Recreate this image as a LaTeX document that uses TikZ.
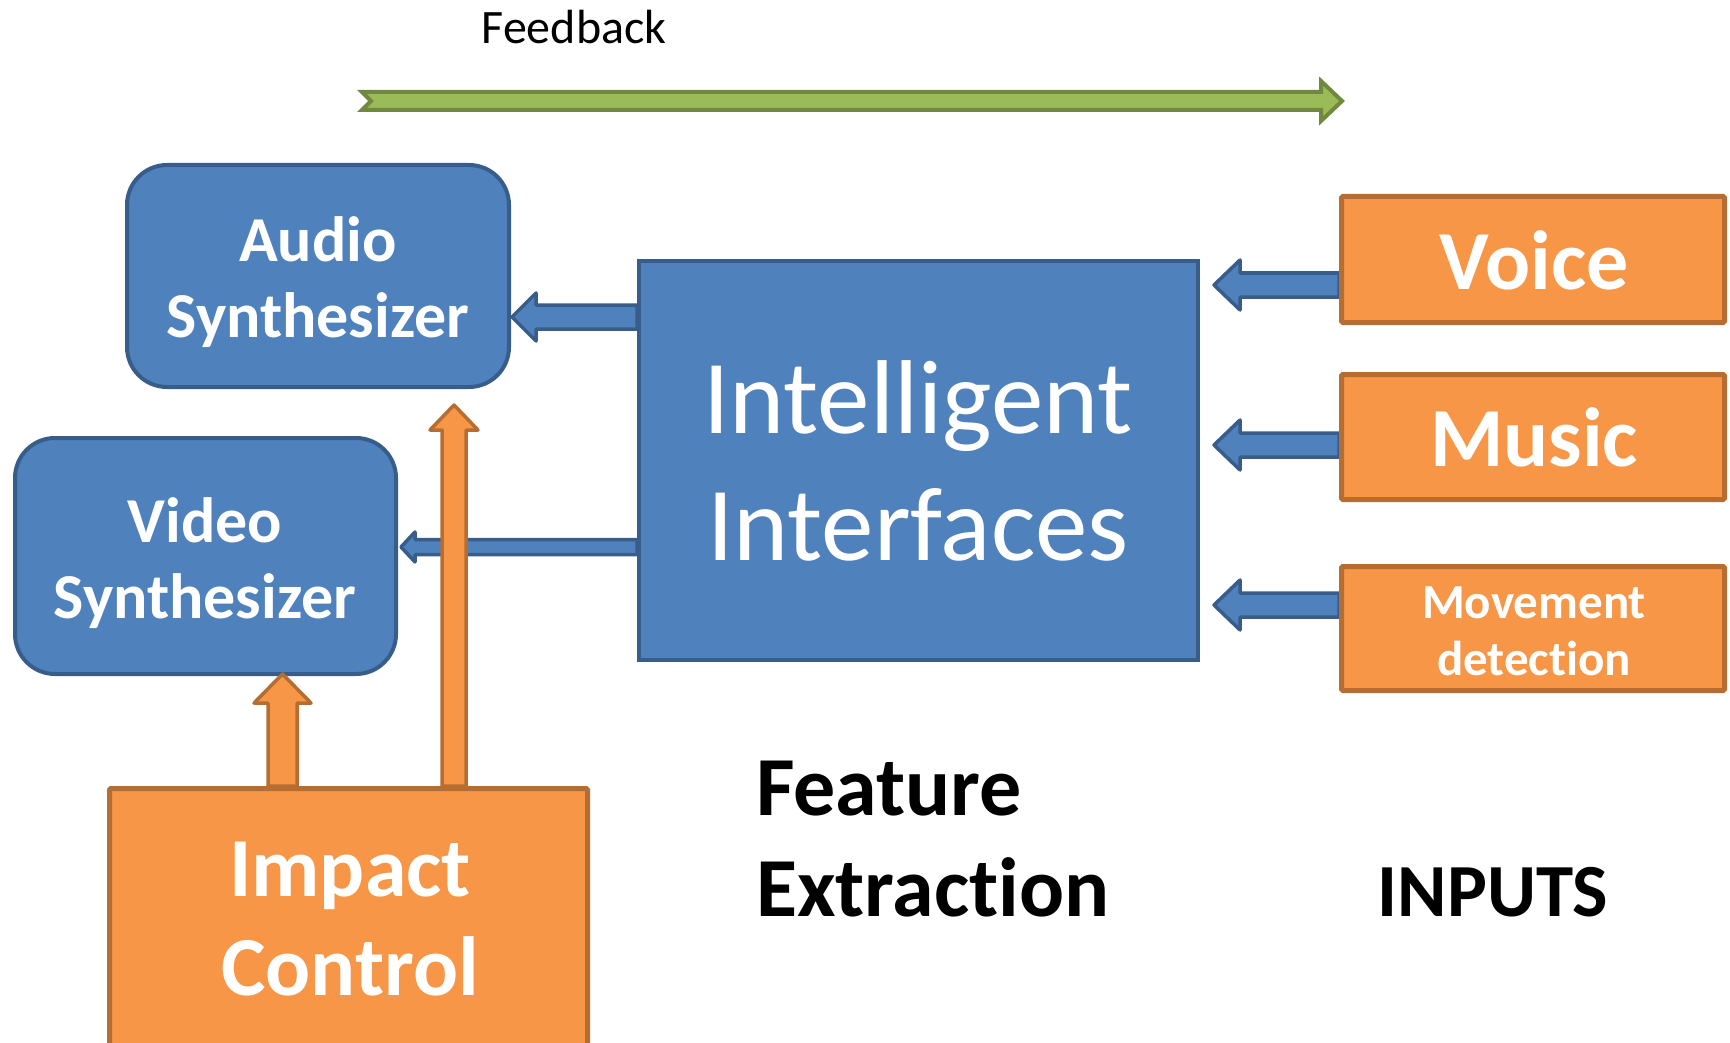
\documentclass[tikz,border=0pt]{standalone}
\usepackage{fontspec}
\setmainfont{Carlito}[Ligatures=NoCommon]
\usetikzlibrary{calc,backgrounds}
\definecolor{bfill}{HTML}{4F81BD}
\definecolor{bline}{HTML}{385D8A}
\definecolor{ofill}{HTML}{F79646}
\definecolor{oline}{HTML}{B66D31}
\definecolor{gfill}{HTML}{9BBB59}
\definecolor{gline}{HTML}{71893F}
\newcommand\fs[2]{\fontsize{#1}{#2}\selectfont}
% left-pointing block arrow: style, tail, tip, shaft half, head half, head length
\newcommand\arrowL[6]{%
  \draw[#1] let \p1=(#2), \p2=(#3) in
    (\x1,\y2+#4) -- (\x2+#6,\y2+#4) -- (\x2+#6,\y2+#5) -- (\x2,\y2)
    -- (\x2+#6,\y2-#5) -- (\x2+#6,\y2-#4) -- (\x1,\y2-#4) -- cycle;}
% up-pointing block arrow
\newcommand\arrowU[6]{%
  \draw[#1] let \p1=(#2), \p2=(#3) in
    (\x2-#4,\y1) -- (\x2-#4,\y2-#6) -- (\x2-#5,\y2-#6) -- (\x2,\y2)
    -- (\x2+#5,\y2-#6) -- (\x2+#4,\y2-#6) -- (\x2+#4,\y1) -- cycle;}
\tikzset{
  bluebox/.style={draw=bline, fill=bfill, line width=4pt, inner sep=0pt},
  orangebox/.style={draw=oline, fill=ofill, line width=5pt, inner sep=0pt, rounded corners=1.5pt},
  lbl/.style={text=white, align=center, inner sep=0pt},
  bluearrow/.style={draw=bline, fill=bfill, line width=3.5pt, line join=round},
  orangearrow/.style={draw=oline, fill=ofill, line width=3.5pt, line join=round},
  greenarrow/.style={draw=gline, fill=gfill, line width=4pt, line join=miter},
}
\begin{document}
\begin{tikzpicture}[x=1pt,y=-1pt]
\useasboundingbox (0,0) rectangle (1730,1043);

% boxes
\node[bluebox, rounded corners=40pt, minimum width=382pt, minimum height=222pt] (audio) at (318,276) {};
\node[bluebox, rounded corners=40pt, minimum width=381pt, minimum height=236pt] (video) at (205.5,556) {};
\node[bluebox, minimum width=559pt, minimum height=399pt] (ii) at (918.5,460.5) {};
\node[orangebox, minimum width=383pt, minimum height=126pt] (voice) at (1533,259.5) {};
\node[orangebox, minimum width=383pt, minimum height=125pt] (music) at (1533,437) {};
\node[orangebox, minimum width=383pt, minimum height=124pt] (move) at (1533,628.5) {};
\node[orangebox, minimum width=478pt, minimum height=257.5pt] (impact) at (348.5,917.25) {};

% labels (base = baseline of the last line)
\node[lbl, font=\bfseries\fs{64}{76}, anchor=base] (audiot) at (318,337) {Audio\\Synthesizer};
\node[lbl, font=\bfseries\fs{64}{76}, anchor=base] (videot) at (205,618) {Video\\Synthesizer};
\node[lbl, font=\fs{105}{127}, anchor=base] (iit) at (918,560) {Intelligent\\Interfaces};
\node[lbl, font=\bfseries\fs{84}{100}, anchor=base] (voicet) at (1534,289) {Voice};
\node[lbl, font=\bfseries\fs{84}{100}, anchor=base] (musict) at (1534,466) {Music};
\node[lbl, font=\bfseries\fs{49}{57}, anchor=base] (movet) at (1534,675) {Movement\\detection};
\node[lbl, font=\bfseries\fs{84}{99}, anchor=base] (impactt) at (350,995) {Impact\\Control};
\node[inner sep=0pt, font=\fs{48}{58}, anchor=base] (fbt) at (574,44) {Feedback};
\node[inner sep=0pt, align=left, font=\bfseries\fs{84}{101}, anchor=base west] (fet) at (756,916) {Feature\\Extraction};
\node[inner sep=0pt, font=\bfseries\fs{75}{92}, anchor=base] (inp) at (1493,916) {INPUTS};

% arrow tips
\coordinate (tA) at (512,317);
\coordinate (tV) at (401,547);
\coordinate (tVo) at (1214,285);
\coordinate (tMu) at (1214,445);
\coordinate (tMo) at (1214,605);
\coordinate (tOA) at (454,405);
\coordinate (tOV) at (282.5,674);
\coordinate (fbtail) at (362,101);
\coordinate (fbtip) at (1342,101);

\begin{scope}[on background layer]
\arrowL{bluearrow}{ii.west}{tA}{12pt}{24pt}{24pt}
\arrowL{bluearrow}{ii.west}{tV}{7.5pt}{15pt}{14pt}
\arrowL{bluearrow}{voice.west}{tVo}{12pt}{25pt}{26pt}
\arrowL{bluearrow}{music.west}{tMu}{12pt}{25pt}{26pt}
\arrowL{bluearrow}{move.west}{tMo}{12pt}{25pt}{26pt}
\end{scope}

\arrowU{orangearrow}{impact.north}{tOA}{12pt}{24pt}{25pt}
\arrowU{orangearrow}{impact.north}{tOV}{14.5pt}{28.5pt}{29pt}

% feedback arrow
\draw[greenarrow] let \p1=(fbtail), \p2=(fbtip) in
  (\x1,\y1+9pt) -- (\x2-21pt,\y1+9pt) -- (\x2-21pt,\y1+20pt) -- (\x2,\y2)
  -- (\x2-21pt,\y1-20pt) -- (\x2-21pt,\y1-9pt) -- (\x1,\y1-9pt) -- (\x1+9pt,\y1) -- cycle;
\end{tikzpicture}
\end{document}
